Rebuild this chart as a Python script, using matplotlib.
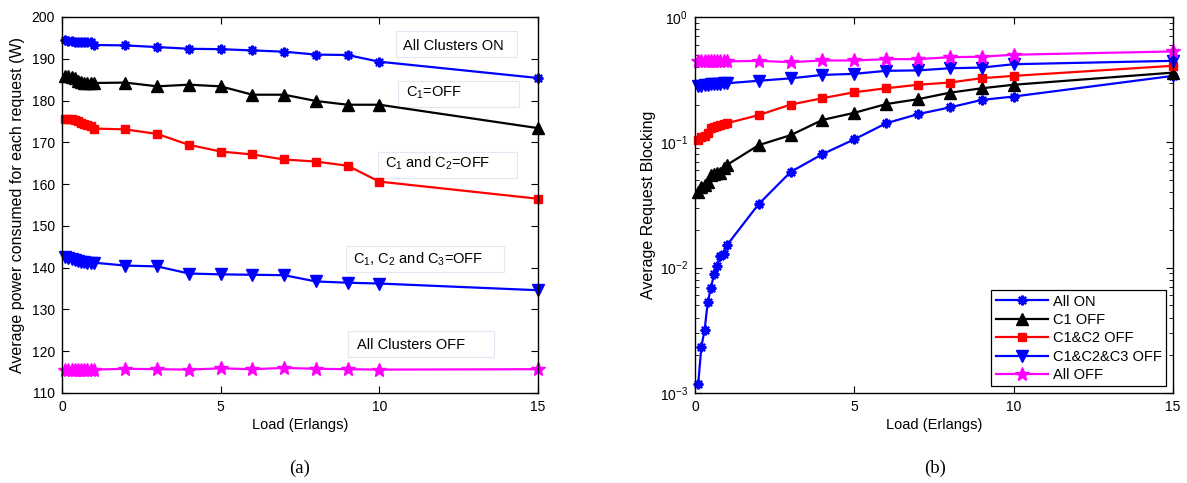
import matplotlib
matplotlib.use("Agg")
import matplotlib.pyplot as plt
from matplotlib.patches import Rectangle
from matplotlib.ticker import LogLocator, NullFormatter

plt.rcParams['font.family'] = ['Liberation Sans', 'DejaVu Sans']
plt.rcParams['mathtext.fontset'] = 'custom'
plt.rcParams['mathtext.rm'] = 'Liberation Sans'
plt.rcParams['mathtext.it'] = 'Liberation Sans:italic'

load = [0.1, 0.2, 0.3, 0.4, 0.5, 0.6, 0.7, 0.8, 0.9, 1.0, 2, 3, 4, 5, 6, 7, 8, 9, 10, 15]

# (a) average power per request (W)
pw_all_on = [194.6, 194.3, 194.2, 194.1, 194.0, 194.0, 194.0, 194.0, 193.9, 193.3,
             193.2, 192.8, 192.4, 192.3, 192.0, 191.7, 191.0, 190.9, 189.3, 185.4]
pw_c1_off = [185.9, 185.8, 185.6, 185.3, 184.8, 184.4, 184.3, 184.3, 184.3, 184.2,
             184.3, 183.4, 183.8, 183.4, 181.4, 181.4, 179.9, 179.0, 179.0, 173.4]
pw_c12_off = [175.7, 175.7, 175.6, 175.4, 175.0, 174.6, 174.5, 174.2, 173.8, 173.3,
              173.1, 172.0, 169.4, 167.8, 167.1, 165.9, 165.4, 164.4, 160.6, 156.5]
pw_c123_off = [142.6, 142.4, 142.1, 141.8, 141.6, 141.4, 141.3, 141.2, 141.1, 141.2,
               140.5, 140.3, 138.6, 138.4, 138.3, 138.2, 136.7, 136.4, 136.2, 134.6]
pw_all_off = [115.5, 115.6, 115.5, 115.6, 115.5, 115.6, 115.5, 115.6, 115.5, 115.6,
              115.8, 115.7, 115.6, 115.9, 115.7, 116.0, 115.8, 115.7, 115.6, 115.7]

# (b) average request blocking
bl_all_on = [0.00118, 0.00234, 0.00316, 0.0053, 0.0069, 0.0089, 0.0104, 0.0123, 0.0129, 0.0151,
             0.0322, 0.058, 0.0805, 0.1057, 0.142, 0.168, 0.19, 0.218, 0.232, 0.339]
bl_c1_off = [0.0398, 0.044, 0.046, 0.048, 0.0547, 0.0558, 0.0565, 0.057, 0.062, 0.066,
             0.095, 0.114, 0.151, 0.172, 0.202, 0.221, 0.249, 0.27, 0.288, 0.36]
bl_c12_off = [0.105, 0.11, 0.113, 0.118, 0.129, 0.132, 0.135, 0.138, 0.14, 0.142,
              0.165, 0.2, 0.225, 0.251, 0.27, 0.288, 0.3, 0.325, 0.339, 0.408]
bl_c123_off = [0.279, 0.283, 0.286, 0.288, 0.29, 0.292, 0.293, 0.294, 0.295, 0.296,
               0.31, 0.324, 0.345, 0.352, 0.372, 0.375, 0.39, 0.395, 0.42, 0.447]
bl_all_off = [0.442, 0.442, 0.442, 0.442, 0.442, 0.442, 0.442, 0.442, 0.442, 0.442,
              0.447, 0.436, 0.45, 0.45, 0.461, 0.461, 0.478, 0.482, 0.5, 0.531]

legend_labels = ["All ON", "C1 OFF", "C1&C2 OFF", "C1&C2&C3 OFF", "All OFF"]
annot_texts = ["All Clusters ON", r"C$_1$=OFF", r"C$_1$ and C$_2$=OFF",
               r"C$_1$, C$_2$ and C$_3$=OFF", "All Clusters OFF"]

styles = [
    dict(color='#0000ff', marker=(8, 2, 0), ms=7, mew=1.6),
    dict(color='#000000', marker='^', ms=8, mew=1),
    dict(color='#ff0000', marker='s', ms=6.3, mew=1),
    dict(color='#0000ff', marker='v', ms=8, mew=1),
    dict(color='#ff00ff', marker='*', ms=10, mew=1),
]

fig = plt.figure(figsize=(11.87, 4.83), dpi=100)
axa = fig.add_axes([62/1187, 1-393/483, 476/1187, 376/483])
axb = fig.add_axes([695/1187, 1-393/483, 478/1187, 376/483])

for ys, st in zip([pw_all_on, pw_c1_off, pw_c12_off, pw_c123_off, pw_all_off], styles):
    axa.plot(load, ys, '-', color=st['color'], lw=1.6, marker=st['marker'],
             ms=st['ms'], mew=st['mew'], mfc=st['color'], mec=st['color'], clip_on=False)

for ys, st, lab in zip([bl_all_on, bl_c1_off, bl_c12_off, bl_c123_off, bl_all_off], styles, legend_labels):
    axb.plot(load, ys, '-', color=st['color'], lw=1.6, marker=st['marker'],
             ms=st['ms'], mew=st['mew'], mfc=st['color'], mec=st['color'], label=lab, clip_on=False)

for ax in (axa, axb):
    ax.set_xlim(0, 15)
    ax.set_xticks([0, 5, 10, 15])
    ax.tick_params(which='both', direction='in', top=True, right=True, labelsize=10, pad=5)
    ax.tick_params(which='major', length=5)
    ax.tick_params(which='minor', length=3)
    for s in ax.spines.values():
        s.set_linewidth(1.0)
    ax.set_xlabel("Load (Erlangs)", fontsize=10.5, labelpad=3)

axa.set_ylim(110, 200)
axa.set_yticks(range(110, 201, 10))
axa.set_ylabel("Average power consumed for each request (W)", fontsize=11.5, labelpad=5)

axb.set_yscale('log')
axb.set_ylim(1e-3, 1)
axb.yaxis.set_major_locator(LogLocator(base=10, numticks=10))
axb.yaxis.set_minor_locator(LogLocator(base=10, subs=range(2, 10), numticks=10))
axb.yaxis.set_minor_formatter(NullFormatter())
axb.set_ylabel("Average Request Blocking", fontsize=11.5, labelpad=3)

leg = axb.legend(loc='lower right', fontsize=10.5, frameon=True, fancybox=False,
                 edgecolor='black', framealpha=1, borderpad=0.3, labelspacing=0.3,
                 handlelength=3.6, handletextpad=0.35, borderaxespad=0.45)
leg.get_frame().set_linewidth(0.9)

# annotation boxes (data coordinates)
boxes = [(10.51, 190.4, 3.83, 6.3), (10.59, 178.4, 3.81, 6.3), (9.95, 161.4, 4.40, 6.4),
         (8.94, 138.85, 5.00, 6.35), (9.02, 118.6, 4.60, 6.25)]
text_pos = [(10.76, 192.2), (10.84, 180.9), (10.18, 163.9), (9.16, 140.9), (9.29, 120.6)]
for (bx, by, bw, bh), (tx, ty), t in zip(boxes, text_pos, annot_texts):
    axa.add_patch(Rectangle((bx, by), bw, bh, fill=True, facecolor='white',
                            edgecolor='#e4e4f2', lw=0.8, zorder=1))
    axa.text(tx, ty, t, fontsize=10.5, ha='left', va='baseline', zorder=2)

fig.text(300/1187, 1-468/483, "(a)", fontsize=13.5, family=['Liberation Serif'], ha='center', va='center')
fig.text(935/1187, 1-468/483, "(b)", fontsize=13.5, family=['Liberation Serif'], ha='center', va='center')

fig.savefig("out.png", dpi=100)
